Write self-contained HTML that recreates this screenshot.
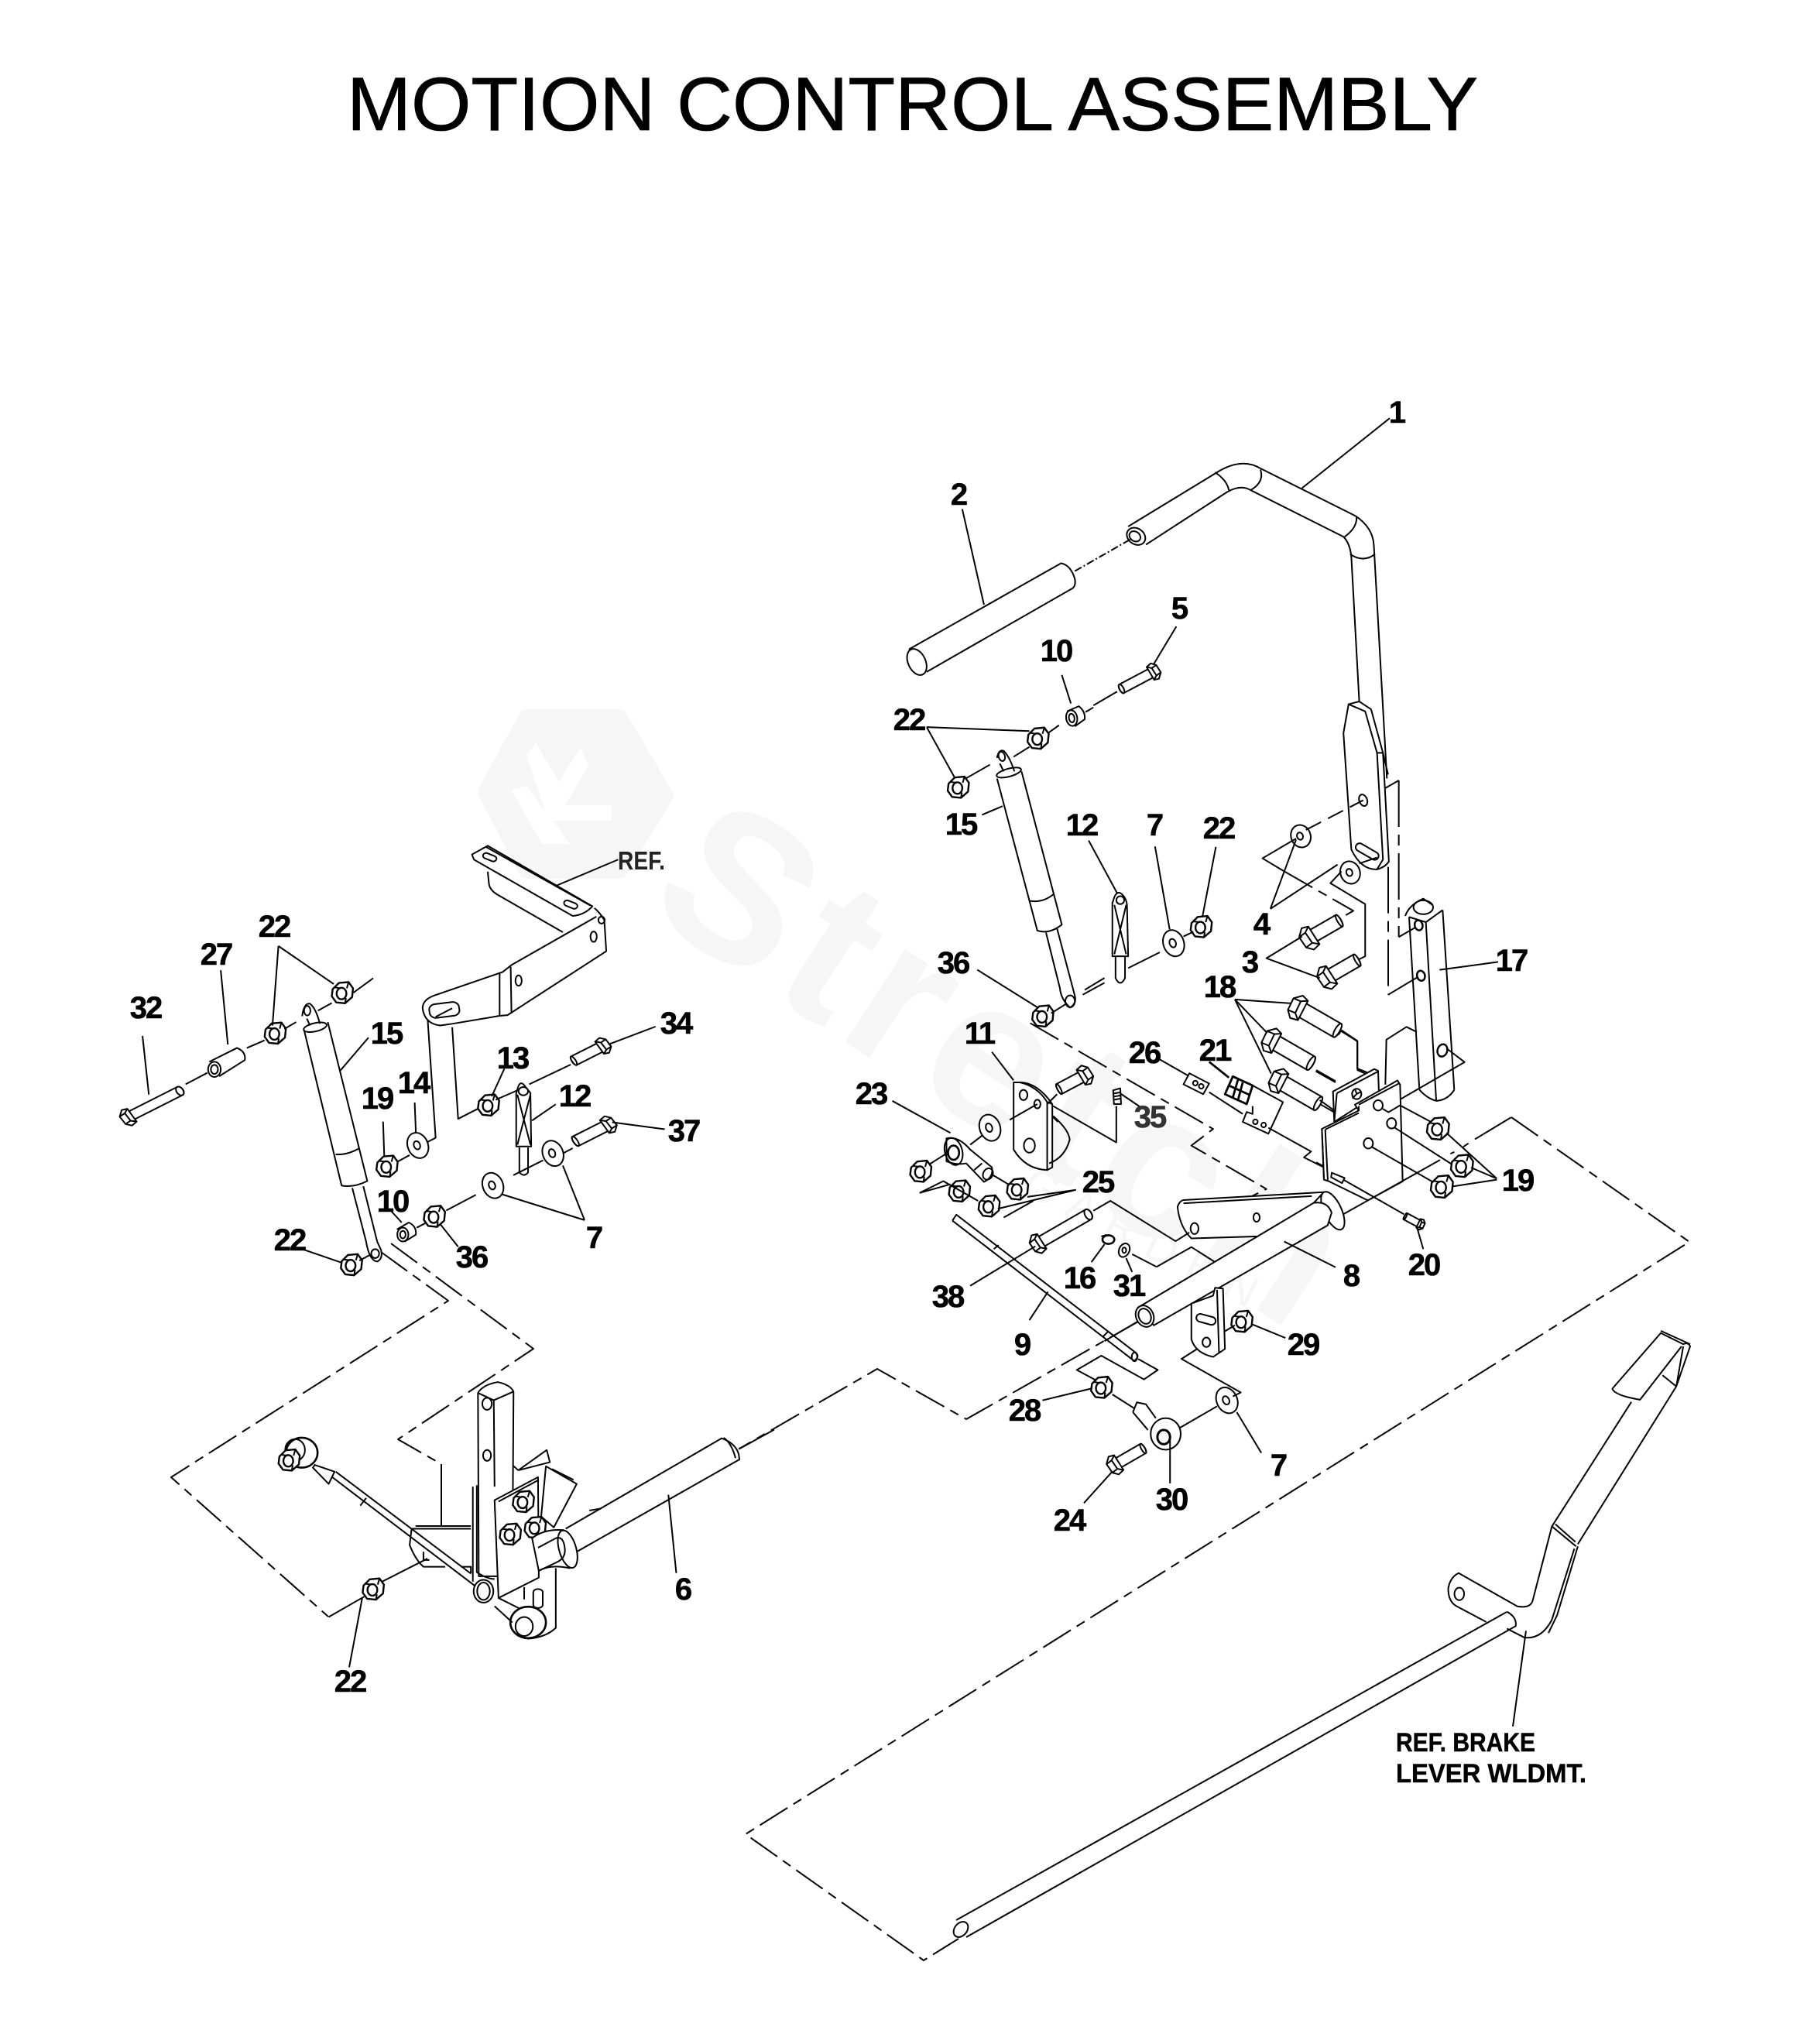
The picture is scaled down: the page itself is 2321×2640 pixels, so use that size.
<!DOCTYPE html>
<html><head><meta charset="utf-8"><title>Motion Control Assembly</title>
<style>
html,body{margin:0;padding:0;background:#fff}
svg{display:block}
svg *{vector-effect:non-scaling-stroke}
.p{fill:none;stroke:#000;stroke-width:2;stroke-linejoin:round}
.w{fill:#fff}
.d{stroke-dasharray:42 9 12 9}
.n{font:bold 40px "Liberation Sans",sans-serif;letter-spacing:-2px;text-anchor:middle;fill:#000;stroke:#000;stroke-width:.6}
</style></head><body>
<svg xmlns="http://www.w3.org/2000/svg" width="2321" height="2640" viewBox="0 0 2321 2640">
<rect width="2321" height="2640" fill="#fff"/>
<defs>
<g id="nut" transform="scale(1.12)"><path class="w" d="M-22,-8 L-8,-22 L14,-24 L24,-10 L22,10 L6,24 L-14,22 L-24,8 Z" style="stroke-width:2.4"/><ellipse cx="-2" cy="2" rx="11" ry="13" style="stroke-width:2.4"/><path d="M-18,-12 L-4,-10 M6,24 L8,12 M14,-24 L10,-10"/></g>
<g id="sh"><path class="w" d="M0,-13 L-100,-13 A6,13 0 0 0 -100,13 L0,13"/><ellipse cx="-100" cy="0" rx="6" ry="13"/></g>
<g id="hd"><path class="w" d="M-6,-22 L10,-26 L22,-14 L24,12 L10,26 L-4,22 Z"/><path d="M-6,-22 L6,-12 L8,14 L-4,22 M6,-12 L22,-14 M8,14 L24,12"/></g>
<g id="washer"><ellipse class="w" rx="26" ry="34"/><ellipse rx="8" ry="11" cx="-2" cy="-1"/></g>
</defs>

<!-- watermark -->
<g fill="#f6f6f6" stroke="none">
<path d="M680,926 L800,926 L860,1028 L800,1125 L680,1125 L627,1023 Z" stroke="#f6f6f6" stroke-width="20" stroke-linejoin="round"/>
<path d="M692,960 L722,1010 L750,965 L760,990 L730,1040 L790,1040 L790,1060 L715,1060 L735,1090 L700,1090 L660,1020 L680,1015 L705,1050 L680,975 Z" fill="#fff"/>
<text transform="translate(830,1176) rotate(33)" font-family="Liberation Sans, sans-serif" font-weight="bold" font-size="270" textLength="1000">Stretch</text>
<text transform="translate(1318,1540) rotate(27)" font-family="Liberation Sans, sans-serif" font-size="56" textLength="330">GARDEN</text>
</g>

<text x="448" y="168" font-family="Liberation Sans, sans-serif" font-size="97" textLength="1461" lengthAdjust="spacingAndGlyphs" fill="#000" stroke="#000" stroke-width=".8">MOTION CONTROL ASSEMBLY</text>

<!-- main-coordinate dashed phantom lines -->
<g class="p">
<path class="d" d="M1952,1443 L2182,1604 L963,2369 L1193,2532 L1238,2504"/>
<path class="d" d="M1470,1707 L1248,1833 L1133,1768 L955,1871"/>
<path class="d" d="M492,1617 L579,1680 L221,1908 L424,2088"/>
<path class="d" d="M505,1606 L689,1742 L514,1859 L570,1891"/>
<path d="M570,1891 L570,1971"/>
<path d="M1946,2082 L1235,2480 M1958,2100 L1248,2502"/>
<ellipse cx="1241" cy="2492" rx="8" ry="11" transform="rotate(40 1241 2492)"/>
</g>

<!-- Group A: handle and upper right -->
<g class="p" transform="translate(1100 480) scale(.5102)">
<path d="M700,392 L920,258 Q985,215 1035,245 L1275,365 Q1320,395 1322,440 L1355,1030"/>
<path d="M745,438 L950,305 Q985,285 1010,300 L1245,418 Q1262,435 1265,470 L1285,835"/>
<path d="M920,255 Q950,275 955,300 M1035,248 Q1045,280 1010,300 M1278,368 Q1280,395 1248,418 M1262,462 Q1295,485 1325,462"/>
<ellipse cx="720" cy="417" rx="25" ry="20" transform="rotate(35 720 417)"/>
<ellipse cx="717" cy="417" rx="15" ry="12" transform="rotate(35 717 417)"/>
<path d="M145,703 L530,485 Q555,490 565,525 Q568,540 560,548 L190,760"/>
<ellipse cx="165" cy="735" rx="22" ry="35" transform="rotate(-25 165 735)"/>
<path style="stroke-dasharray:10 3 2 3" d="M565,505 L705,425"/>
<path d="M280,348 L335,590 M1140,295 L1362,118"/>
<path class="w" d="M1285,835 L1315,855 L1345,965 L1360,1240 Q1350,1255 1330,1260 Q1290,1262 1265,1210 L1245,915 L1258,842 Z"/>
<path d="M1258,842 L1300,860 L1330,965 L1345,1235 L1330,1260 M1330,965 L1345,965 M1345,965 L1358,1020"/>
<ellipse cx="1295" cy="1085" rx="10" ry="15" transform="rotate(-20 1295 1085)"/>
<rect x="-32" y="-10" width="64" height="20" rx="10" transform="translate(1305 1215) rotate(30)"/>
<use href="#washer" transform="translate(1137 1176) rotate(-20) scale(.95 .85)"/>
<use href="#washer" transform="translate(1262 1268) rotate(-20) scale(.95 .85)"/>
<path style="stroke-dasharray:22 10" d="M1150,1160 L1295,1085"/>
<path d="M1285,1245 L1330,1230 M1125,1185 L1060,1360 M1230,1248 L1060,1360 M1125,1182 L1040,1232 L1095,1265"/>
<path class="d" d="M1095,1265 L1270,1365 L1235,1385"/>
<path d="M1240,1265 L1212,1295 L1300,1348 L1300,1480 L1270,1495"/>
<use href="#sh" transform="translate(1165 1430) rotate(150) scale(.8 1.3)"/><use href="#hd" transform="translate(1165 1430) rotate(150) scale(1.2)"/>
<use href="#sh" transform="translate(1210 1530) rotate(150) scale(.8 1.3)"/><use href="#hd" transform="translate(1210 1530) rotate(150) scale(1.2)"/>
<path d="M1140,1430 L1050,1485 L1185,1535"/>
<path class="w" d="M545,860 L575,847 Q592,860 590,880 L565,898"/>
<ellipse cx="557" cy="877" rx="14" ry="20" transform="rotate(-10 557 877)"/>
<ellipse cx="557" cy="877" rx="7" ry="11" transform="rotate(-10 557 877)"/>
<use href="#sh" transform="translate(760 762) rotate(-28) scale(.87 .95)"/><use href="#hd" transform="translate(760 762) rotate(-28) scale(.85)"/>
<path d="M822,645 L765,740 M532,768 L555,840 M190,900 L450,910 M190,900 L262,1030 M410,975 L450,950 M525,895 L490,920 M592,862 L612,850 M612,845 L672,810 M280,1035 L350,995"/>
<use href="#nut" transform="translate(472 928)"/>
<use href="#nut" transform="translate(270 1052)"/>
<path d="M368,978 Q372,955 385,960 Q400,975 412,1012 M375,992 L385,1012"/>
<ellipse cx="380" cy="974" rx="8" ry="12" transform="rotate(-15 380 974)"/>
<ellipse cx="398" cy="1015" rx="32" ry="10" transform="rotate(-15 398 1015)"/>
<path d="M368,1030 L470,1415 Q500,1425 532,1400 L430,1012 M452,1340 Q485,1345 512,1322"/>
<path d="M492,1420 L527,1560 Q530,1590 553,1610 Q570,1600 565,1580 L520,1410"/>
<ellipse cx="553" cy="1594" rx="12" ry="15"/>
<path d="M330,1122 L382,1100"/>
<path d="M662,1340 Q668,1315 680,1320 Q695,1330 697,1350 L700,1480 L660,1480 L660,1345 Z M665,1350 L695,1475 M695,1350 L665,1475 M668,1482 L668,1535 Q680,1560 692,1535 L692,1482 M600,1187 L672,1320"/>
<ellipse cx="680" cy="1338" rx="10" ry="10"/>
<use href="#washer" transform="translate(815 1447) rotate(-20)"/>
<use href="#nut" transform="translate(885 1405)"/>
<path d="M768,1202 L805,1412 M922,1203 L888,1380 M590,1565 L640,1535 M700,1510 L780,1470 M840,1430 L865,1418"/>
</g>

<!-- Group G: part 17, plates, nuts 19 -->
<g class="p" transform="translate(1700 950) scale(.3333 .4464)">
<path d="M360,525 L400,1025 M425,540 L465,1055 M490,505 L535,1025 M360,525 L425,540 L490,505 M345,522 Q360,490 415,472 L450,490 M400,1025 Q430,1050 465,1057 Q510,1055 535,1025"/>
<ellipse cx="415" cy="497" rx="38" ry="20"/>
<ellipse cx="397" cy="549" rx="16" ry="14" transform="rotate(30 397 549)" style="stroke-width:2.5"/>
<ellipse cx="406" cy="695" rx="16" ry="14" transform="rotate(30 406 695)" style="stroke-width:2.5"/>
<ellipse cx="489" cy="911" rx="20" ry="17" transform="rotate(-30 489 911)" style="stroke-width:2.5"/>
<path d="M478,678 L705,655 M268,152 L320,130"/>
<path style="stroke-dasharray:60 10 14 10" d="M320,130 L320,583"/>
<path d="M320,583 L385,555"/>
<path style="stroke-dasharray:60 10 14 10" d="M279,380 L279,750"/>
<path d="M279,750 L395,698 M505,905 L575,945 L320,1055 M390,858 L350,843 L272,880 L268,1010"/>
<path class="w" d="M65,1030 L225,965 L240,970 L243,1035 L70,1118 Z"/>
<path d="M80,1035 L70,1118 M80,1035 L240,972"/>
<ellipse cx="157" cy="1037" rx="18" ry="15"/>
<path d="M140,1050 L157,1037 L175,1030 M157,1037 L150,1022"/>
<path class="w" d="M22,1138 L165,1085 L150,1068 L315,998 L325,1010 L335,1290 L200,1345 L50,1290 L30,1285 Z"/>
<path d="M35,1140 L165,1092 M165,1085 L165,1072 M165,1068 L322,1006 M35,1140 L45,1290 M22,1138 L30,1285"/>
<ellipse cx="240" cy="1070" rx="18" ry="15"/>
<ellipse cx="292" cy="1122" rx="18" ry="15"/>
<ellipse cx="202" cy="1180" rx="18" ry="15"/>
<path d="M258,1080 L280,1090 L325,1070 L450,1120 M305,1135 L535,1245 M215,1190 L460,1295"/>
<path d="M105,1385 L480,1228 M520,1210 L535,1205 M570,1190 L590,1180 M615,1168 L755,1105"/>
<use href="#nut" transform="translate(472 1137) scale(1.6 1.2)"/>
<use href="#nut" transform="translate(565 1245) scale(1.6 1.2)"/>
<use href="#nut" transform="translate(487 1305) scale(1.6 1.2)"/>
<path d="M505,1150 L700,1282 M600,1250 L700,1282 M525,1305 L700,1285"/>
<path d="M105,1285 L340,1385"/>
<ellipse cx="80" cy="852" rx="14" ry="14"/>
<path d="M60,1265 L110,1280 L100,1295 L58,1278 Z"/>
<path d="M0,800 L70,835 M92,853 L160,885 L160,968 L190,978"/>
<path d="M0,968 L75,1000 M0,1060 L70,1090 M0,1235 L25,1245"/>
</g>

<!-- Group B: lower right middle -->
<g class="p" transform="translate(1100 1250) scale(.5102)">
<use href="#nut" transform="translate(484 122)"/>
<path d="M318,5 L470,100 M505,115 L545,90 M585,68 L640,38"/>
<path class="d" d="M452,140 L915,408 L860,450 L1050,560 L1015,577"/>
<path class="w" d="M410,290 L410,460 Q440,510 495,512 L508,505 L508,345 Q470,290 425,290 Z"/>
<path d="M495,340 L495,512 M425,290 Q470,300 495,340 L508,345"/>
<ellipse cx="435" cy="322" rx="10" ry="13"/>
<ellipse cx="470" cy="345" rx="8" ry="11"/>
<ellipse cx="450" cy="450" rx="14" ry="18"/>
<path d="M510,375 Q550,410 552,435 Q540,480 500,495 M510,378 L522,390"/>
<use href="#sh" transform="translate(585 275) rotate(-28) scale(.68 1.1)"/><use href="#hd" transform="translate(585 275) rotate(-28)"/>
<use href="#washer" transform="translate(350 405) rotate(-20)"/>
<path d="M400,385 L470,345 M495,345 L520,320 M510,350 L670,442 L670,350"/>
<path d="M662,310 L680,305 L682,345 L664,345 Z M664,318 L682,315 M664,326 L682,323 M664,334 L682,331"/>
<path d="M680,318 L730,352 M355,213 L410,285 M103,337 L250,418"/>
<path class="w" d="M240,432 Q270,425 300,460 L355,505 Q360,530 335,542 L290,495 Q265,500 240,490 Z"/>
<ellipse cx="258" cy="465" rx="22" ry="35" transform="rotate(-15 258 465)"/>
<ellipse cx="258" cy="468" rx="14" ry="18" style="stroke-width:2.6"/>
<ellipse cx="345" cy="522" rx="12" ry="15" transform="rotate(30 345 522)"/>
<path d="M310,512 L330,495 M185,505 L240,470 M300,448 L330,425"/>
<use href="#nut" transform="translate(175 515)"/>
<use href="#nut" transform="translate(420 560)"/>
<use href="#nut" transform="translate(273 565)"/>
<use href="#nut" transform="translate(348 603)"/>
<path d="M568,562 L445,580 M568,562 L370,610 M358,525 L400,550 M250,548 L172,570 M172,570 L232,540 L320,590 M385,632 L460,590"/>
<path d="M255,640 L265,625 L720,975 Q730,985 715,995 L255,640 M360,712 L372,702 M635,935 L650,920"/>
<ellipse cx="716" cy="985" rx="7" ry="11"/>
<use href="#sh" transform="translate(477 695) rotate(150) scale(1.41 1.1)"/><use href="#hd" transform="translate(477 695) rotate(150)"/>
<path d="M300,805 L465,705 M450,892 L497,820 M725,990 L775,1018 L740,1042 L632,982 L570,1018 L620,1045"/>
<use href="#nut" transform="translate(633 1062)"/>
<path d="M483,1095 L607,1065 M660,1080 L715,1115"/>
<path d="M712,1125 L722,1100 L745,1105 L770,1140 M712,1125 L750,1170"/>
<ellipse cx="795" cy="1180" rx="38" ry="40" class="w"/>
<ellipse cx="790" cy="1188" rx="16" ry="18" style="stroke-width:3"/>
<path d="M806,1190 L806,1305"/>
<use href="#sh" transform="translate(672 1255) rotate(150) scale(.76 1.05)"/><use href="#hd" transform="translate(672 1255) rotate(150)"/>
<path d="M588,1355 L660,1275 M975,1125 L1037,1228 M830,1165 L925,1110"/>
<use href="#washer" transform="translate(950 1095) rotate(-25)"/>
<path d="M890,955 L835,990 L985,1075 L965,1085"/>
<path class="w" d="M825,605 Q830,590 840,588 L1195,568 L1170,595 L1030,680 L860,685 Q830,655 825,605 Z"/>
<ellipse cx="868" cy="660" rx="10" ry="14"/>
<ellipse cx="1025" cy="632" rx="8" ry="11"/>
<path d="M840,596 L1165,578"/>
<ellipse cx="1218" cy="615" rx="22" ry="52" transform="rotate(-25 1218 615)" class="w"/>
<path class="w" d="M725,860 L1170,595 Q1205,590 1215,620 L1205,652 L765,905 Z"/>
<ellipse cx="742" cy="882" rx="22" ry="28" transform="rotate(-25 742 882)" class="w"/>
<ellipse cx="742" cy="882" rx="15" ry="20" transform="rotate(-25 742 882)"/>
<path d="M1095,693 L1225,758 M725,895 L640,945"/>
<path class="w" d="M860,850 L860,940 Q870,975 915,985 L945,965 L940,812 L920,810 L915,830 Z"/>
<path d="M925,815 L930,975"/>
<rect x="-25" y="-10" width="50" height="20" rx="10" transform="translate(897 890) rotate(15)"/>
<ellipse cx="898" cy="948" rx="10" ry="12"/>
<use href="#nut" transform="translate(988 895)"/>
<path d="M1015,903 L1098,937 M945,920 L970,905"/>
<path d="M612,615 L655,590 L820,692 L855,670 M772,757 L860,707 L920,745 M710,725 L772,757"/>
<ellipse cx="650" cy="688" rx="15" ry="11" style="stroke-width:2.6"/>
<path d="M632,680 L645,676 M607,745 L640,700 M695,735 L710,770"/>
<ellipse cx="690" cy="715" rx="13" ry="18" transform="rotate(25 690 715)"/>
<ellipse cx="690" cy="715" rx="5" ry="7"/>
<path d="M855,267 L905,293 L890,320 L840,295 Z M780,232 L850,272 M905,315 L990,370"/>
<circle cx="870" cy="292" r="6"/><circle cx="885" cy="300" r="6"/>
<path d="M945,320 L965,275 L1015,298 L1000,345 Z M955,298 L1008,322 M978,283 L965,328 M990,290 L978,335 M905,238 L955,278" style="stroke-width:2.8"/>
<path d="M1015,298 L1092,340 L1055,420 L990,390 L1000,365 L1015,370 L1015,350"/>
<circle cx="1022" cy="390" r="6"/><circle cx="1043" cy="398" r="6"/>
<path d="M1055,405 L1163,465 L1145,480 L1195,505"/>
<use href="#sh" transform="translate(1137 105) rotate(210) scale(1.07 1.5)"/><use href="#hd" transform="translate(1137 105) rotate(210) scale(1.25)"/>
<use href="#sh" transform="translate(1070 188) rotate(210) scale(1.07 1.5)"/><use href="#hd" transform="translate(1070 188) rotate(210) scale(1.25)"/>
<use href="#sh" transform="translate(1088 290) rotate(210) scale(1.07 1.5)"/><use href="#hd" transform="translate(1088 290) rotate(210) scale(1.25)"/>
<path d="M970,80 L1112,90 M970,80 L1052,165 M970,80 L1062,268"/>
<path d="M1240,158 L1280,185 L1280,255 L1305,265 M1175,262 L1225,290 M1185,335 L1220,360"/>
<use href="#sh" transform="translate(1437 648) rotate(28) scale(.4 .7)"/><use href="#hd" transform="translate(1437 648) rotate(28) scale(.55)"/>
<path d="M1432,660 L1447,712"/>
</g>

<!-- Group C: left upper -->
<g class="p" transform="translate(130 1050) scale(.5102 .4464)">
<path d="M940,120 L980,95 L1245,270 Q1225,295 1195,298 L945,135 Z M975,98 L1240,268"/>
<rect x="-18" y="-8" width="36" height="16" rx="8" transform="translate(985 128) rotate(25)"/>
<rect x="-18" y="-8" width="36" height="16" rx="8" transform="translate(1190 265) rotate(25)"/>
<path d="M980,170 L983,205 Q985,225 1010,240 L1170,345"/>
<path d="M1250,275 Q1265,290 1275,310 L1280,400 L1030,585 L1010,587 L890,610 M1255,300 L1040,440 L1018,460 L845,528 Q815,540 815,565 Q820,610 860,615 L890,610"/>
<rect x="-38" y="-20" width="76" height="40" rx="16" transform="translate(870 570) rotate(-8)"/>
<path d="M848,590 L890,565"/>
<path d="M1010,465 L1010,585 M1038,445 L1040,580"/>
<ellipse cx="1248" cy="358" rx="8" ry="15"/>
<ellipse cx="1058" cy="485" rx="8" ry="15"/>
<ellipse cx="1268" cy="310" rx="8" ry="10"/>
<path d="M1310,135 L1150,212 M828,600 L848,940 L805,965 M890,620 L905,885 L965,850"/>
<use href="#nut" transform="translate(982 845) scale(1 1.14)"/>
<path d="M1022,740 L990,820 M1000,830 L1060,800"/>
<path class="w" d="M1055,800 Q1060,775 1070,785 L1088,810 L1090,965 L1052,965 L1052,810 Z"/>
<ellipse cx="1070" cy="805" rx="12" ry="12"/>
<path d="M1055,815 L1088,960 M1088,815 L1055,960 M1060,968 L1060,1040 Q1072,1055 1082,1040 L1082,968 M1152,843 L1092,890"/>
<use href="#sh" transform="translate(1267 677) rotate(-30) scale(.8 1.1)"/><use href="#hd" transform="translate(1267 677) rotate(-30) scale(.95)"/>
<path d="M1405,618 L1285,670 M1085,785 L1190,728"/>
<use href="#sh" transform="translate(1280 905) rotate(-30) scale(.9 1.2)"/><use href="#hd" transform="translate(1280 905) rotate(-30)"/>
<path d="M1428,915 L1295,895"/>
<use href="#washer" transform="translate(1145 985) rotate(-15) scale(1 1.1)"/>
<use href="#washer" transform="translate(993 1078) rotate(-15) scale(1 1.1)"/>
<path d="M1045,1048 L1120,1005 M1170,985 L1195,970 M1170,1020 L1225,1178 M1015,1103 L1225,1178 M875,1150 L950,1105"/>
<use href="#nut" transform="translate(845 1167) scale(1 1.14)"/>
<path d="M860,1190 L905,1255 M750,1205 L780,1185 Q800,1195 798,1220 L770,1240"/>
<ellipse cx="765" cy="1220" rx="14" ry="20"/>
<ellipse cx="765" cy="1220" rx="7" ry="11"/>
<path d="M730,1145 L762,1185 M800,1200 L825,1185"/>
<path d="M510,588 Q515,548 530,552 Q545,565 555,610 M522,595 L530,615"/>
<ellipse cx="523" cy="572" rx="8" ry="14"/>
<ellipse cx="543" cy="620" rx="30" ry="12" transform="rotate(-15 543 620)"/>
<path d="M515,628 L610,1078 Q640,1085 675,1065 L575,605 M595,988 Q625,990 655,970"/>
<path d="M637,1085 L672,1240 M665,1080 L700,1240 M672,1240 Q680,1295 700,1298 Q715,1290 710,1265 L700,1240"/>
<ellipse cx="695" cy="1275" rx="10" ry="13"/>
<path d="M678,650 L607,745 M550,572 L585,550 M640,520 L690,478"/>
<use href="#nut" transform="translate(612 520) scale(1 1.14)"/>
<use href="#nut" transform="translate(442 637) scale(1 1.14)"/>
<path d="M450,385 L435,615 M450,385 L590,495 M370,680 L415,658 M465,625 L495,605"/>
<path d="M275,720 L345,680 Q368,690 365,715 L300,762"/>
<ellipse cx="288" cy="742" rx="16" ry="22"/>
<ellipse cx="288" cy="742" rx="9" ry="13"/>
<path d="M304,455 L322,670 M215,785 L270,752"/>
<use href="#sh" transform="translate(75 877) rotate(150) scale(1.45 1.05)"/><use href="#hd" transform="translate(75 877) rotate(150)"/>
<path d="M106,645 L122,815"/>
<use href="#nut" transform="translate(725 1022) scale(1 1.14)"/>
<path d="M715,893 L718,995"/>
<use href="#washer" transform="translate(803 962) rotate(-15) scale(1 1.1)"/>
<path d="M795,838 L798,925 M750,1010 L782,990"/>
<use href="#nut" transform="translate(635 1307) scale(1 1.14)"/>
<path d="M510,1262 L612,1302 M655,1295 L680,1280"/>
</g>

<!-- Group D: left lower assembly -->
<g class="p" transform="translate(200 1650) scale(.5102 .3508)">
<path d="M1040,925 L1435,592 Q1470,610 1478,650 L1480,670 L1070,1008"/>
<path d="M1440,590 Q1460,610 1470,665"/>
<path d="M1300,800 L1320,1088 M1478,632 L1568,560"/>
<path d="M920,710 L992,635 L1000,680 L920,710 M905,690 L920,710"/>
<path class="w" d="M990,695 L1068,760 L1010,920 L978,880 Z"/>
<path d="M1005,705 L1060,745"/>
<path class="w" d="M818,425 Q830,395 868,385 Q900,395 908,420 L905,1100 L820,1100 Z"/>
<path d="M858,450 L860,770 M818,425 L858,452 L908,420 M805,770 L805,1120 M815,765 L815,1085 Q840,1110 860,1110"/>
<ellipse cx="841" cy="465" rx="12" ry="22"/>
<ellipse cx="841" cy="655" rx="10" ry="20"/>
<path class="w" d="M860,820 L970,735 L972,1105 L870,1180 Z"/>
<path d="M870,825 L972,745"/>
<use href="#nut" transform="translate(933 825) scale(1 1.45)"/>
<use href="#nut" transform="translate(900 945) scale(1 1.45)"/>
<use href="#nut" transform="translate(963 920) scale(1 1.45)"/>
<path class="w" d="M955,960 Q985,925 1035,930 L1065,1000 L1050,1070 Q1000,1055 972,1080 Z"/>
<ellipse cx="1045" cy="1000" rx="22" ry="70" transform="rotate(-10 1045 1000)" class="w"/>
<path d="M970,995 L1015,960 Q1035,950 1038,1000 Q1040,1035 1015,1050 L972,1080"/>
<path d="M1015,1070 L1015,1290 Q990,1325 945,1330 Q910,1310 905,1270 M935,1140 L935,1185"/>
<rect x="-12" y="-35" width="24" height="70" rx="12" transform="translate(970 1182)"/>
<path d="M440,725 L810,1135 M458,715 L800,1090 M520,840 L535,812"/>
<path class="w" d="M405,690 L455,715 L440,760 L400,700 Z"/>
<ellipse cx="372" cy="645" rx="40" ry="55" class="w" style="stroke-width:2.6"/>
<ellipse cx="355" cy="635" rx="25" ry="40"/>
<use href="#nut" transform="translate(340 672) scale(1 1.45)"/>
<ellipse cx="832" cy="1155" rx="25" ry="42" class="w"/>
<ellipse cx="832" cy="1155" rx="16" ry="32"/>
<ellipse cx="945" cy="1270" rx="45" ry="58" class="w" style="stroke-width:2.6"/>
<ellipse cx="935" cy="1285" rx="22" ry="35"/>
<path d="M860,1210 L905,1270 M870,1180 L925,1220"/>
<path d="M650,925 L800,925 M660,915 L800,915 M650,925 L645,985 Q660,1040 680,1065 L735,1065 M680,1010 L680,1040 L695,1040 M775,1065 L800,1065 L800,1090"/>
<use href="#nut" transform="translate(553 1147) scale(1 1.45)"/>
<path d="M575,1120 L690,1035 M530,1175 L440,1250 M525,1180 L492,1435 M1100,858 L1130,850"/>
</g>

<!-- Group E: brake lever -->
<g class="p" transform="translate(1500 1650) scale(.4464 .574)">
<path d="M1000,752 Q1030,765 1025,785 M940,775 L855,740 Q830,730 830,700 Q835,675 860,665 L1030,740 Q1070,745 1075,725 L1130,560 L1360,280 M1130,560 L1200,605 M1140,555 L1198,595 M1205,600 L1490,245 L1530,155 Q1525,145 1510,150 L1445,125 L1305,250 Q1310,265 1385,275 L1505,155 M1445,120 L1530,150 M1450,220 L1490,245 M1510,155 L1490,245 M1195,610 L1130,770 Q1100,815 1050,810 L1000,790 M1205,605 L1145,760 L1120,800 M1055,795 L1017,1010"/>
<ellipse cx="862" cy="712" rx="14" ry="14"/>
</g>

<!-- labels -->
<g class="n">
<text x="1804" y="546">1</text><text x="1238" y="652">2</text><text x="1523" y="799">5</text><text x="1364" y="854">10</text><text x="1174" y="943">22</text><text x="1241" y="1078">15</text><text x="1397" y="1079">12</text><text x="1491" y="1079">7</text><text x="1574" y="1083">22</text><text x="1629" y="1207">4</text><text x="1614" y="1256">3</text><text x="1231" y="1257">36</text><text x="1575" y="1288">18</text><text x="1952" y="1254">17</text><text x="1265" y="1348">11</text><text x="1478" y="1373">26</text><text x="1569" y="1370">21</text><text x="1485" y="1456" fill="#333" stroke="#333">35</text><text x="1125" y="1426">23</text><text x="1418" y="1540">25</text><text x="1960" y="1538">19</text><text x="1839" y="1647">20</text><text x="1745" y="1661">8</text><text x="1394" y="1664">16</text><text x="1458" y="1674">31</text><text x="1224" y="1688">38</text><text x="1320" y="1750">9</text><text x="1683" y="1750">29</text><text x="1323" y="1835">28</text><text x="1651" y="1906">7</text><text x="1513" y="1950">30</text><text x="1381" y="1977">24</text>
<text x="354" y="1210">22</text><text x="279" y="1246">27</text><text x="188" y="1315">32</text><text x="873" y="1335">34</text><text x="499" y="1348">15</text><text x="662" y="1380">13</text><text x="534" y="1412">14</text><text x="487" y="1432">19</text><text x="742" y="1429">12</text><text x="883" y="1474">37</text><text x="507" y="1565">10</text><text x="374" y="1615">22</text><text x="767" y="1612">7</text><text x="609" y="1637">36</text><text x="882" y="2066">6</text><text x="452" y="2185">22</text>
</g>
<g font-family="Liberation Sans, sans-serif" font-weight="bold" fill="#000">
<text x="798" y="1123" font-size="33" textLength="61" lengthAdjust="spacingAndGlyphs" fill="#222">REF.</text>
<text x="1803" y="2262" font-size="34" textLength="180" lengthAdjust="spacingAndGlyphs" stroke="#000" stroke-width=".5">REF. BRAKE</text>
<text x="1803" y="2302" font-size="34" textLength="246" lengthAdjust="spacingAndGlyphs" stroke="#000" stroke-width=".5">LEVER WLDMT.</text>
</g>
</svg>
</body></html>
